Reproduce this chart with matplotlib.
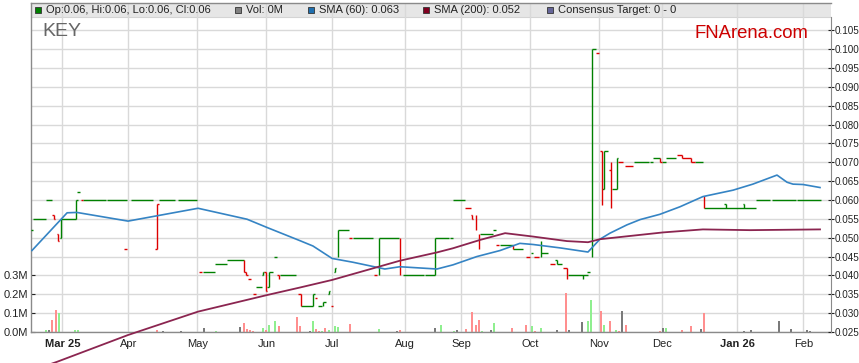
import numpy as np
import matplotlib.pyplot as plt
from matplotlib.patches import Rectangle

plt.rcParams['font.family'] = ['Liberation Sans', 'DejaVu Sans']

# x axis = trading session index
month_pos = [10, 31, 53, 75, 96, 119, 137, 159, 181, 201, 225, 246]
month_lbl = ['Mar 25', 'Apr', 'May', 'Jun', 'Jul', 'Aug', 'Sep', 'Oct', 'Nov', 'Dec', 'Jan 26', 'Feb']

# price bars drawn as step segments: (session start, session end, price)
green_h = [
    (0, 0.6, 0.052), (0.6, 4.8, 0.055), (4.8, 6.7, 0.060), (9.1, 9.6, 0.050), (9.6, 14.3, 0.055),
    (14.3, 15.0, 0.060), (14.6, 15.6, 0.062), (16.6, 23.9, 0.060), (24.2, 30.6, 0.060),
    (31.8, 38.9, 0.060), (40.8, 45.9, 0.060), (46.8, 52.9, 0.060),
    (54.8, 58.6, 0.041), (58.6, 62.4, 0.043), (62.4, 67.8, 0.044), (71.7, 73.6, 0.037),
    (73.6, 73.9, 0.040), (73.9, 74.2, 0.041), (75.2, 75.8, 0.037), (75.8, 77.1, 0.041),
    (77.4, 78.3, 0.045), (79.3, 84.4, 0.040), (86.0, 89.8, 0.032), (89.8, 90.3, 0.035),
    (91.4, 92.7, 0.032), (93.0, 93.9, 0.033), (94.6, 94.9, 0.035), (94.9, 95.2, 0.036),
    (96.5, 96.8, 0.041), (96.8, 97.1, 0.042), (97.8, 101.3, 0.052), (102.5, 108.9, 0.050),
    (110.8, 117.2, 0.050), (118.5, 125.2, 0.040), (125.5, 128.7, 0.040), (128.7, 133.1, 0.050),
    (133.4, 134.4, 0.050), (134.4, 138.2, 0.060), (143.0, 147.1, 0.051), (147.1, 148.1, 0.052),
    (149.4, 153.5, 0.048), (153.5, 156.7, 0.047), (159.2, 159.9, 0.046), (162.4, 164.6, 0.046),
    (167.0, 167.5, 0.044), (167.5, 169.1, 0.043), (171.0, 177.4, 0.040), (177.1, 178.0, 0.041),
    (178.7, 179.9, 0.100), (181.8, 182.5, 0.063), (182.5, 183.8, 0.073), (185.0, 186.6, 0.063),
    (186.6, 186.9, 0.071), (192.0, 196.8, 0.070), (197.1, 198.1, 0.070), (198.1, 200.3, 0.071),
    (201.0, 202.2, 0.070), (202.2, 205.4, 0.071), (211.5, 214.0, 0.070), (214.3, 230.9, 0.058),
    (220.7, 221.3, 0.059), (226.8, 227.1, 0.059), (230.9, 235.4, 0.060), (236.0, 243.6, 0.060),
    (243.9, 251.6, 0.060),
]
red_h = [
    (6.7, 7.3, 0.056), (7.3, 7.6, 0.055), (8.3, 8.6, 0.051), (8.6, 8.9, 0.049),
    (15.9, 16.6, 0.060), (29.6, 30.6, 0.047), (39.5, 40.1, 0.047), (40.1, 40.8, 0.059),
    (53.5, 54.5, 0.041), (67.8, 68.6, 0.041), (68.6, 69.1, 0.040), (69.1, 70.1, 0.039),
    (70.7, 71.7, 0.035), (74.2, 74.8, 0.041), (74.8, 75.3, 0.036), (78.3, 79.0, 0.040),
    (85.0, 85.9, 0.035), (90.4, 91.2, 0.034), (95.5, 96.2, 0.032), (101.3, 102.2, 0.050),
    (109.2, 110.2, 0.040), (138.2, 140.1, 0.058), (140.1, 140.4, 0.056), (140.4, 140.8, 0.055),
    (148.1, 149.0, 0.048), (157.6, 158.9, 0.045), (160.2, 161.8, 0.045), (165.3, 166.9, 0.043),
    (169.4, 170.7, 0.042), (179.9, 180.9, 0.099), (181.2, 181.8, 0.073), (184.1, 184.7, 0.068),
    (186.9, 188.5, 0.070), (189.2, 191.7, 0.069), (200.3, 201.0, 0.070), (205.7, 207.3, 0.072),
    (207.3, 210.2, 0.071), (210.2, 211.5, 0.070),
]
# (session, low, high)
green_v = [
    (9.6, 0.050, 0.055), (14.3, 0.055, 0.060), (73.9, 0.040, 0.041), (75.8, 0.037, 0.041),
    (89.8, 0.032, 0.035), (93.0, 0.032, 0.033), (94.9, 0.035, 0.036), (96.8, 0.041, 0.042),
    (97.8, 0.045, 0.052), (110.8, 0.040, 0.050), (128.7, 0.040, 0.050), (162.4, 0.045, 0.049),
    (167.5, 0.043, 0.044), (175.8, 0.039, 0.040), (178.7, 0.045, 0.100), (182.5, 0.063, 0.073),
    (186.6, 0.063, 0.071), (221.3, 0.058, 0.059), (227.1, 0.058, 0.059),
]
red_v = [
    (7.3, 0.055, 0.056), (8.6, 0.049, 0.051), (40.1, 0.047, 0.059), (67.8, 0.041, 0.044),
    (68.6, 0.040, 0.041), (74.8, 0.036, 0.041), (79.0, 0.039, 0.040), (85.9, 0.032, 0.035),
    (117.5, 0.040, 0.050), (140.4, 0.055, 0.056), (141.7, 0.052, 0.056), (142.7, 0.047, 0.051),
    (153.5, 0.047, 0.048), (170.7, 0.039, 0.042), (181.8, 0.0587, 0.073), (184.7, 0.058, 0.070),
    (200.3, 0.070, 0.071), (207.3, 0.071, 0.072), (210.2, 0.070, 0.071), (214.3, 0.058, 0.061),
]

# volume in millions: (session, volume, colour key)
volume = [
    (4.8, 0.012, 'g'), (5.7, 0.012, 'k'), (6.7, 0.065, 'r'), (8.0, 0.118, 'r'), (8.9, 0.100, 'g'),
    (14.0, 0.012, 'g'), (15.0, 0.012, 'g'), (40.1, 0.012, 'r'), (42.0, 0.005, 'k'), (47.8, 0.005, 'k'),
    (55.1, 0.022, 'k'), (58.9, 0.007, 'g'), (66.6, 0.028, 'k'), (67.8, 0.050, 'r'), (68.8, 0.017, 'r'),
    (69.7, 0.012, 'r'), (70.7, 0.006, 'r'), (73.9, 0.022, 'g'), (74.8, 0.011, 'r'), (75.8, 0.038, 'g'),
    (77.7, 0.059, 'g'), (79.0, 0.034, 'r'), (84.7, 0.081, 'r'), (85.7, 0.034, 'r'), (88.9, 0.006, 'k'),
    (89.8, 0.060, 'g'), (90.8, 0.017, 'r'), (91.7, 0.006, 'r'), (92.7, 0.006, 'g'), (93.6, 0.022, 'r'),
    (94.9, 0.012, 'g'), (96.8, 0.034, 'g'), (97.8, 0.028, 'g'), (101.6, 0.043, 'r'), (110.8, 0.017, 'g'),
    (116.6, 0.005, 'k'), (117.5, 0.012, 'r'), (128.7, 0.023, 'k'), (130.6, 0.038, 'g'), (134.7, 0.005, 'g'),
    (135.7, 0.012, 'k'), (138.5, 0.018, 'r'), (140.4, 0.108, 'r'), (141.7, 0.035, 'r'), (142.7, 0.065, 'r'),
    (143.6, 0.005, 'g'), (146.5, 0.012, 'k'), (147.5, 0.048, 'g'), (153.2, 0.023, 'r'), (157.6, 0.035, 'r'),
    (159.6, 0.030, 'g'), (160.5, 0.006, 'r'), (162.4, 0.023, 'g'), (167.5, 0.012, 'k'), (170.4, 0.207, 'r'),
    (171.3, 0.012, 'k'), (175.5, 0.051, 'k'), (177.4, 0.060, 'g'), (178.3, 0.168, 'g'), (181.5, 0.113, 'r'),
    (182.5, 0.035, 'g'), (184.4, 0.060, 'r'), (186.3, 0.012, 'g'), (187.3, 0.006, 'r'), (188.2, 0.113, 'k'),
    (189.5, 0.035, 'r'), (200.3, 0.006, 'r'), (201.3, 0.023, 'k'), (202.2, 0.023, 'g'), (207.3, 0.012, 'r'),
    (210.2, 0.030, 'r'), (213.4, 0.018, 'k'), (214.3, 0.099, 'r'), (227.1, 0.005, 'k'), (229.3, 0.012, 'k'),
    (238.2, 0.060, 'k'), (242.0, 0.018, 'k'), (247.1, 0.012, 'k'), (248.1, 0.006, 'k'),
]

sma60_x = [0.3, 11.5, 14.6, 30.9, 53.2, 68.8, 75.2, 85.7, 89.8, 95.9, 102.5, 112.7, 117.5, 129.3,
           134.4, 142.0, 149.4, 155.7, 159.9, 168.5, 177.4, 181.2, 184.4, 189.8, 194.0, 200.3,
           206.7, 214.0, 223.6, 229.9, 237.6, 240.8, 242.7, 245.9, 251.3]
sma60_y = [0.0466, 0.0566, 0.0567, 0.0544, 0.0578, 0.0549, 0.0527, 0.0492, 0.0478, 0.0445, 0.0435,
           0.0417, 0.0423, 0.0417, 0.0428, 0.0450, 0.0466, 0.0485, 0.0482, 0.0473, 0.0462, 0.0496,
           0.0512, 0.0534, 0.0548, 0.0562, 0.0582, 0.0609, 0.0626, 0.0642, 0.0666, 0.0647, 0.0642,
           0.0641, 0.0633]
sma200_x = [0, 8.3, 30.9, 53.2, 75.2, 85.7, 95.9, 117.5, 129.3, 134.4, 143.0, 151.0, 159.9,
            170.7, 177.4, 181.2, 201.3, 214.0, 229.0, 251.3]
sma200_y = [0.0147, 0.0171, 0.0242, 0.0304, 0.0348, 0.0368, 0.0388, 0.0439, 0.0461, 0.0472,
            0.0494, 0.0512, 0.0503, 0.0491, 0.0488, 0.0496, 0.0514, 0.0522, 0.0520, 0.0522]

GREEN, RED = '#008000', '#dd0000'
VOL_COL = {'g': '#8fef8f', 'r': '#ff8f8f', 'k': '#7a7a7a'}

fig = plt.figure(figsize=(8.59, 3.63), dpi=100)
W, H = 859, 363
ax = fig.add_axes([31 / W, 1 - 332 / H, 800 / W, 329 / H])
ax2 = ax.twinx()

x_max = 254.8
vol_top = 1.7444
price_lo, price_hi = 0.025, 0.025 + vol_top * 0.05

# volume (left axis)
vx = [v[0] for v in volume]
vh = [v[1] for v in volume]
vc = [VOL_COL[v[2]] for v in volume]
ax.bar(vx, vh, width=0.75, color=vc, zorder=2)
ax.set_xlim(0, x_max)
ax.set_ylim(0, vol_top)

vticks = np.arange(0, 1.65, 0.1)
ax.set_yticks(vticks)
ax.set_yticklabels([f'{v:.1f}M' if v < 0.35 else '' for v in vticks])
for i, t in enumerate(ax.yaxis.get_major_ticks()):
    if i > 3:
        t.tick1line.set_visible(False)
ax.set_xticks(month_pos)
ax.set_xticklabels(month_lbl)
for lbl in ax.get_xticklabels():
    if ' ' in lbl.get_text():
        lbl.set_fontweight('bold')

ax.set_axisbelow(True)
ax.grid(True, color='#d9d9d9', lw=1.0)
ax.add_patch(Rectangle((0, 315 / 329), 1, 14 / 329, transform=ax.transAxes,
                       facecolor='#e6e6e6', edgecolor='none', zorder=0.2))
ax.axhline(1.67, color='#d4d4d4', lw=0.8, zorder=0.3)

ax.tick_params(axis='y', direction='in', length=3, pad=2, labelsize=8, colors='#222222')
ax.tick_params(axis='x', length=0, pad=5, labelsize=8, colors='#222222')
for s in ['left', 'bottom', 'top']:
    ax.spines[s].set_color('#8a8a8a')
    ax.spines[s].set_linewidth(1.0)
ax.spines['right'].set_visible(False)

# price (right axis)
ax2.set_ylim(price_lo, price_hi)
ax2.hlines([s[2] for s in green_h], [s[0] for s in green_h], [s[1] for s in green_h],
           color=GREEN, lw=1.0, zorder=3)
ax2.vlines([s[0] for s in green_v], [s[1] for s in green_v], [s[2] for s in green_v],
           color=GREEN, lw=1.0, zorder=3)
ax2.hlines([s[2] for s in red_h], [s[0] for s in red_h], [s[1] for s in red_h],
           color=RED, lw=1.0, zorder=3)
ax2.vlines([s[0] for s in red_v], [s[1] for s in red_v], [s[2] for s in red_v],
           color=RED, lw=1.0, zorder=3)
ax2.plot(sma60_x, sma60_y, color='#3584c4', lw=1.2, zorder=4)
ax2.plot(sma200_x, sma200_y, color='#8b2550', lw=1.3, zorder=4, clip_on=False)

pticks = np.arange(0.025, 0.1051, 0.005)
ax2.set_yticks(pticks)
ax2.set_yticklabels([f'{p:.3f}' for p in pticks])
ax2.tick_params(axis='y', direction='inout', length=4, pad=0.5, labelsize=7.1, colors='#222222')
for s in ['left', 'bottom', 'top']:
    ax2.spines[s].set_visible(False)
ax2.spines['right'].set_color('#8a8a8a')
ax2.spines['right'].set_bounds(price_lo, 0.1085)
ax2.set_xlim(0, x_max)

# texts
fig.text(42 / W, 1 - 32 / H, 'KEY', fontsize=14, color='#666666', va='center', ha='left')
fig.text(808 / W, 1 - 34 / H, 'FNArena.com', fontsize=13.3, color='#cc0000', va='center', ha='right')

legend_items = [
    (35, '#008000', 'Op:0.06, Hi:0.06, Lo:0.06, Cl:0.06'),
    (235, '#808080', 'Vol: 0M'),
    (308, '#1f6faf', 'SMA (60): 0.063'),
    (423, '#800020', 'SMA (200): 0.052'),
    (547, '#666699', 'Consensus Target: 0 - 0'),
]
for x0, col, txt in legend_items:
    fig.add_artist(Rectangle((x0 / W, 1 - 13 / H), 6 / W, 6 / H, transform=fig.transFigure,
                             facecolor=col, edgecolor='#333333', lw=0.6))
    fig.text((x0 + 11) / W, 1 - 10 / H, txt, fontsize=8, color='#222222', va='center', ha='left')

fig.savefig('out.png', dpi=100)
